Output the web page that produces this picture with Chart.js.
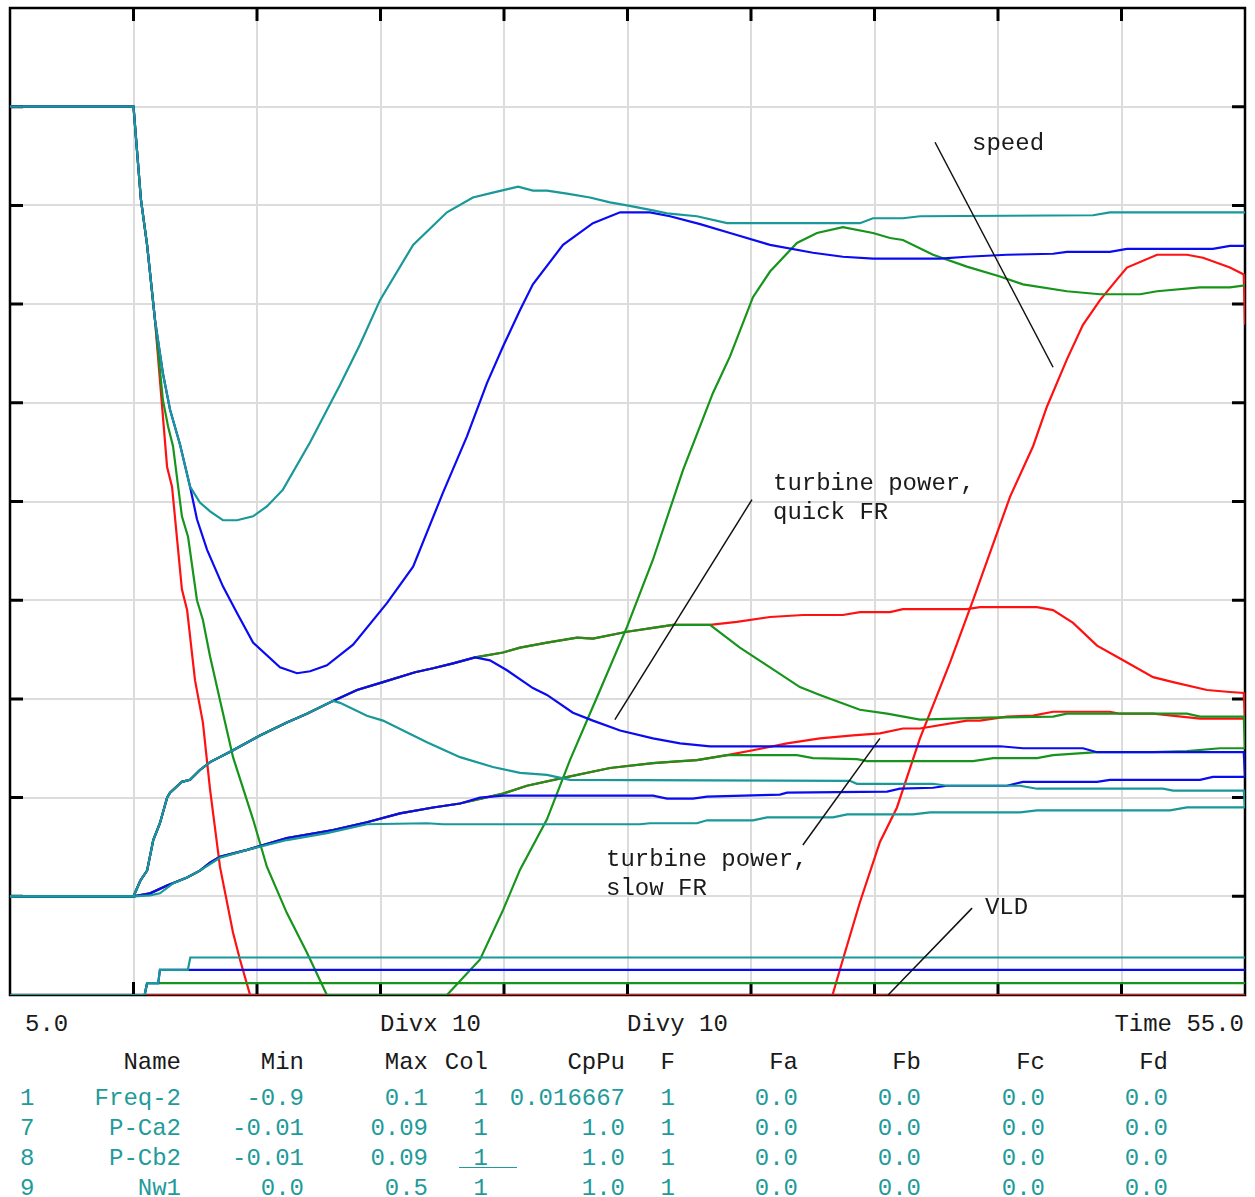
<!DOCTYPE html>
<html>
<head>
<meta charset="utf-8">
<title>Frequency response</title>
<script src="https://cdn.jsdelivr.net/npm/chart.js@4.4.0/dist/chart.umd.min.js"></script>
<style>
  body { margin: 0; background: #fff; width: 1255px; height: 1197px; position: relative; overflow: hidden; font-family: "Liberation Mono", "DejaVu Sans Mono", monospace; }
  #wrap { position: absolute; left: 0; top: 0; }
  .t { position: absolute; font-size: 24px; line-height: 30px; white-space: pre; }
  .k { color: #1a1a1a; }
  .c { color: #1f9b9b; }
  #uline { position: absolute; left: 459px; top: 1167px; width: 58px; border-top: 1px solid #1f9b9b; }
</style>
</head>
<body>
<div id="wrap"><canvas id="plot" width="1255" height="1003"></canvas></div>
<div id="table"></div>
<div id="uline"></div>
<script>
// time axis (s)
const timeMin = 5;
const timeMax = 55;

// table below the plot, one entry per plotted channel
const rowIds = ['1', '7', '8', '9'];
const rowNames = ['Freq-2', 'P-Ca2', 'P-Cb2', 'Nw1'];
const rowMin = [-0.9, -0.01, -0.01, 0.0];
const rowMax = [0.1, 0.09, 0.09, 0.5];
const rowCol = ['1', '1', '1', '1'];
const rowCpPu = ['0.016667', '1.0', '1.0', '1.0'];
const rowF = ['1', '1', '1', '1'];
const rowFa = ['0.0', '0.0', '0.0', '0.0'];
const rowFb = ['0.0', '0.0', '0.0', '0.0'];
const rowFc = ['0.0', '0.0', '0.0', '0.0'];
const rowFd = ['0.0', '0.0', '0.0', '0.0'];

// speed deviation (Freq-2), [time, value]
const speedTeal = [[5,0],[10,0],[10.3,-0.094],[10.55,-0.14],[10.87,-0.216],[11.19,-0.27],[11.48,-0.307],[11.88,-0.342],[12.29,-0.385],[12.69,-0.401],[13.1,-0.41],[13.62,-0.419],[14.19,-0.419],[14.84,-0.415],[15.4,-0.405],[16.05,-0.388],[17.15,-0.34],[18.36,-0.282],[19.17,-0.241],[19.98,-0.196],[21.32,-0.14],[22.69,-0.107],[23.74,-0.092],[24.55,-0.087],[25.57,-0.081],[26.17,-0.085],[26.74,-0.085],[27.55,-0.088],[28.48,-0.092],[29.29,-0.097],[29.98,-0.1],[31.03,-0.105],[31.6,-0.108],[32.81,-0.111],[34.03,-0.118],[39.41,-0.118],[39.94,-0.113],[41.15,-0.113],[41.84,-0.111],[48.85,-0.11],[49.53,-0.107],[55,-0.107]];
const speedBlue = [[5,0],[10,0],[10.3,-0.094],[10.55,-0.14],[10.87,-0.216],[11.19,-0.27],[11.48,-0.307],[11.88,-0.342],[12.29,-0.385],[12.57,-0.418],[12.98,-0.449],[13.62,-0.486],[14.19,-0.513],[14.84,-0.543],[15.93,-0.568],[16.62,-0.574],[17.15,-0.572],[17.83,-0.566],[18.89,-0.545],[20.26,-0.503],[21.32,-0.466],[22.53,-0.391],[23.5,-0.334],[24.31,-0.28],[24.96,-0.243],[25.65,-0.206],[26.17,-0.18],[27.39,-0.14],[28.6,-0.118],[29.7,-0.107],[30.91,-0.107],[31.72,-0.111],[32.94,-0.119],[34.15,-0.128],[35.77,-0.14],[37.51,-0.148],[38.72,-0.152],[39.94,-0.154],[42.65,-0.154],[43.74,-0.152],[45.36,-0.15],[47.23,-0.149],[47.79,-0.147],[49.53,-0.147],[50.22,-0.144],[53.7,-0.144],[54.39,-0.141],[55,-0.141]];
const speedGreen = [[5,0],[10,0],[10.3,-0.094],[10.55,-0.14],[10.87,-0.216],[11.19,-0.297],[11.4,-0.324],[11.6,-0.344],[11.96,-0.415],[12.21,-0.436],[12.57,-0.5],[12.81,-0.52],[13.1,-0.557],[13.5,-0.601],[14.03,-0.659],[14.84,-0.722],[15.4,-0.77],[16.21,-0.817],[17.02,-0.857],[17.83,-0.9],[22.69,-0.9],[24.03,-0.864],[24.96,-0.814],[25.65,-0.773],[26.74,-0.722],[27.67,-0.662],[28.89,-0.591],[29.98,-0.527],[31.03,-0.459],[32.25,-0.368],[33.46,-0.29],[34.15,-0.253],[35.08,-0.193],[35.77,-0.167],[36.86,-0.138],[37.67,-0.128],[38.72,-0.122],[39.94,-0.128],[40.63,-0.133],[41.15,-0.135],[42.37,-0.15],[43.74,-0.162],[45.08,-0.172],[46.01,-0.18],[47.79,-0.187],[49.13,-0.19],[50.75,-0.19],[51.44,-0.187],[53.18,-0.183],[54.39,-0.183],[55,-0.181]];
const speedRed = [[5,0],[10,0],[10.3,-0.094],[10.55,-0.14],[10.87,-0.216],[11.07,-0.277],[11.36,-0.365],[11.56,-0.385],[11.96,-0.489],[12.17,-0.51],[12.49,-0.581],[12.81,-0.624],[13.1,-0.692],[13.5,-0.77],[14.03,-0.837],[14.31,-0.864],[14.72,-0.9],[38.3,-0.9],[38.72,-0.864],[39.41,-0.806],[40.22,-0.745],[40.91,-0.71],[41.84,-0.64],[43.06,-0.563],[43.99,-0.5],[44.96,-0.432],[45.49,-0.395],[46.42,-0.344],[46.98,-0.304],[47.79,-0.256],[48.44,-0.221],[49.13,-0.196],[49.82,-0.175],[50.22,-0.163],[51.44,-0.15],[52.65,-0.15],[53.3,-0.153],[54.39,-0.163],[54.95,-0.17],[55,-0.221]];

// turbine power, quick FR (P-Ca2)
const quickRise = [[5,0],[10,0],[10.28,0.0016],[10.55,0.0026],[10.8,0.0057],[11.07,0.0074],[11.36,0.01],[11.48,0.0105],[11.96,0.0116],[12.29,0.0118],[12.69,0.0128],[13.1,0.0136],[14.03,0.0148],[15.12,0.0163],[16.21,0.0176],[17.02,0.0185],[18.08,0.0198]];
const quickTeal = quickRise.concat([[18.36,0.0196],[19.45,0.0183],[20.1,0.0178],[21.88,0.0156],[23.22,0.0141],[24.55,0.0131],[25.65,0.0125],[26.74,0.0123],[27.67,0.0118],[39,0.0117],[39.29,0.0114],[42.37,0.0114],[42.94,0.0112],[45.89,0.0112],[46.58,0.0109],[51.68,0.0109],[52.09,0.0107],[54.95,0.0107],[55,0.009]]);
const quickBlue = quickRise.concat([[19.05,0.0209],[20.1,0.0217],[21.4,0.0227],[22.13,0.0231],[22.94,0.0236],[23.83,0.0242],[24.43,0.0239],[25.12,0.0229],[26.17,0.0211],[26.74,0.0204],[27.79,0.0186],[28.6,0.0178],[29.7,0.0168],[31.03,0.016],[32.13,0.0155],[33.34,0.0152],[45.08,0.0152],[46.01,0.015],[48.44,0.015],[49.01,0.0146],[54.95,0.0146],[55,0.0121]]);
const quickGreen = quickRise.concat([[19.05,0.0209],[20.1,0.0217],[21.4,0.0227],[22.13,0.0231],[22.94,0.0236],[23.83,0.0242],[24.96,0.0247],[25.65,0.0252],[26.74,0.0257],[27.96,0.0262],[28.6,0.0261],[29.98,0.0268],[31.03,0.0272],[31.84,0.0275],[33.34,0.0275],[34.55,0.0252],[35.77,0.0232],[36.98,0.0212],[37.79,0.0204],[39.41,0.0189],[40.51,0.0185],[41.84,0.0179],[44.55,0.0181],[47.23,0.0182],[47.79,0.0185],[52.65,0.0185],[53.18,0.0182],[54.95,0.0182],[55,0.015]]);
const quickRed = quickRise.concat([[19.05,0.0209],[20.1,0.0217],[21.4,0.0227],[22.13,0.0231],[22.94,0.0236],[23.83,0.0242],[24.96,0.0247],[25.65,0.0252],[26.74,0.0257],[27.96,0.0262],[28.6,0.0261],[29.98,0.0268],[31.03,0.0272],[31.84,0.0275],[33.34,0.0275],[34.43,0.0278],[35.77,0.0283],[37.11,0.0285],[38.72,0.0285],[39.41,0.0288],[40.63,0.0288],[41.15,0.0291],[43.74,0.0291],[44.27,0.0293],[46.58,0.0293],[47.23,0.029],[48.04,0.0277],[49.01,0.0254],[49.94,0.0241],[51.28,0.0222],[52.09,0.0217],[53.46,0.0209],[54.39,0.0207],[54.95,0.0206],[55,0.018]]);

// turbine power, slow FR (P-Cb2)
const slowRise = [[5,0],[10,0],[10.67,0.0003],[11.36,0.0011],[12.17,0.0019],[12.69,0.0026],[13.1,0.0034],[13.5,0.004],[14.6,0.0047],[16.21,0.0059],[18.08,0.0067],[19.45,0.0075]];
const slowTeal = [[5,0],[10,0],[10.67,0.0001],[11.07,0.0003],[11.6,0.0013],[12.17,0.0019],[12.69,0.0026],[13.5,0.0039],[14.6,0.0047],[16.21,0.0057],[17.83,0.0064],[19.45,0.0073],[21.88,0.0074],[22.53,0.0073],[30.5,0.0073],[30.91,0.0074],[32.81,0.0074],[33.22,0.0077],[35.08,0.0077],[35.65,0.008],[38.32,0.008],[38.89,0.0083],[41.56,0.0083],[42.25,0.0085],[45.89,0.0085],[46.58,0.0087],[51.96,0.0087],[52.65,0.009],[55,0.009]];
const slowBlue = slowRise.concat([[20.79,0.0084],[22.13,0.009],[23.22,0.0094],[24.03,0.01],[24.96,0.0102],[31.03,0.0102],[31.6,0.0099],[32.65,0.0099],[33.22,0.0101],[36.17,0.0103],[36.46,0.0105],[40.51,0.0106],[41.03,0.0109],[42.37,0.011],[42.94,0.0112],[45.36,0.0112],[46.01,0.0116],[49.01,0.0116],[49.53,0.0118],[53.18,0.0118],[53.7,0.0121],[55,0.0121]]);
const slowGreen = slowRise.concat([[20.79,0.0084],[22.13,0.009],[23.22,0.0094],[24.96,0.0104],[25.93,0.0112],[27.39,0.012],[29.29,0.013],[31.03,0.0135],[32.13,0.0137],[32.81,0.0138],[34.03,0.0143],[36.86,0.0143],[37.51,0.014],[39.29,0.0139],[39.7,0.0137],[43.99,0.0137],[44.8,0.014],[46.58,0.014],[47.23,0.0143],[49.01,0.0146],[51.28,0.0146],[52.65,0.0147],[53.99,0.015],[55,0.015]]);
const slowRed = slowRise.concat([[20.79,0.0084],[22.13,0.009],[23.22,0.0094],[24.96,0.0104],[25.93,0.0112],[27.39,0.012],[29.29,0.013],[31.03,0.0135],[32.81,0.0138],[34.03,0.0143],[35.08,0.0148],[36.46,0.0155],[37.79,0.016],[39.13,0.0163],[40.22,0.0165],[41.15,0.017],[41.84,0.017],[43.74,0.0178],[44.27,0.0178],[45.36,0.0182],[46.42,0.0183],[47.23,0.0187],[49.53,0.0187],[49.94,0.0185],[51.28,0.0185],[53.18,0.018],[55,0.018]]);

// VLD (Nw1)
const vldTeal = [[5,0],[10.45,0],[10.55,0.006],[11.0,0.006],[11.07,0.0127],[12.2,0.0127],[12.3,0.019],[55,0.019]];
const vldBlue = [[5,0],[10.45,0],[10.55,0.006],[11.0,0.006],[11.07,0.0127],[55,0.0127]];
const vldGreen = [[5,0],[10.45,0],[10.55,0.006],[55,0.006]];
const vldRed = [[5,0],[55,0]];

// labels drawn on the plot: text lines, position in (time, division)
const noteTexts = [['speed'], ['turbine power,', 'quick FR'], ['turbine power,', 'slow FR'], ['VLD']];
const notePos = [[43.95, 8.63], [35.89, 5.18], [29.13, 1.37], [44.47, 0.89]];
const pointerLines = [[42.45, 8.64, 47.23, 6.36], [35.04, 5.02, 29.49, 2.79], [40.22, 2.60, 37.1, 1.52], [43.95, 0.88, 40.55, 0.0]];

const colors = { teal: '#189898', blue: '#0b0bf2', green: '#17941b', red: '#ff1111' };

function pts(arr) {
    return arr.map(p => ({ x: p[0], y: p[1] }));
}

function series(label, arr, axis, color, order) {
    return {
        label: label,
        data: pts(arr),
        yAxisID: axis,
        borderColor: color,
        backgroundColor: color,
        borderWidth: 2.2,
        pointRadius: 0,
        tension: 0,
        fill: false,
        order: order
    };
}

const cases = [
    { color: colors.teal, speed: speedTeal, quick: quickTeal, slow: slowTeal, vld: vldTeal },
    { color: colors.blue, speed: speedBlue, quick: quickBlue, slow: slowBlue, vld: vldBlue },
    { color: colors.green, speed: speedGreen, quick: quickGreen, slow: slowGreen, vld: vldGreen },
    { color: colors.red, speed: speedRed, quick: quickRed, slow: slowRed, vld: vldRed }
];

const datasets = [];
cases.forEach((c, i) => {
    datasets.push(series(rowNames[0], c.speed, 'yFreq', c.color, i));
    datasets.push(series(rowNames[1], c.quick, 'yPca', c.color, i));
    datasets.push(series(rowNames[2], c.slow, 'yPcb', c.color, i));
    datasets.push(series(rowNames[3], c.vld, 'yNw', c.color, i));
});

// black frame with inward ticks
const framePlugin = {
    id: 'frame',
    beforeDatasetsDraw(chart) {
        const { ctx, chartArea: a, scales } = chart;
        ctx.save();
        ctx.strokeStyle = '#000';
        ctx.lineWidth = 2.5;
        ctx.strokeRect(a.left, a.top, a.right - a.left, a.bottom - a.top);
        ctx.lineWidth = 3;
        const len = 13;
        scales.x.ticks.forEach(tk => {
            if (tk.value <= timeMin || tk.value >= timeMax) return;
            const px = scales.x.getPixelForValue(tk.value);
            ctx.beginPath();
            ctx.moveTo(px, a.top); ctx.lineTo(px, a.top + len);
            ctx.moveTo(px, a.bottom); ctx.lineTo(px, a.bottom - len);
            ctx.stroke();
        });
        scales.y.ticks.forEach(tk => {
            if (tk.value <= 0 || tk.value >= 10) return;
            const py = scales.y.getPixelForValue(tk.value);
            ctx.beginPath();
            ctx.moveTo(a.left, py); ctx.lineTo(a.left + len, py);
            ctx.moveTo(a.right, py); ctx.lineTo(a.right - len, py);
            ctx.stroke();
        });
        ctx.restore();
    }
};

// annotation text and pointer lines
const notesPlugin = {
    id: 'notes',
    afterDatasetsDraw(chart) {
        const { ctx, scales } = chart;
        const sx = v => scales.x.getPixelForValue(v);
        const sy = v => scales.y.getPixelForValue(v);
        ctx.save();
        ctx.strokeStyle = '#111';
        ctx.lineWidth = 1.5;
        pointerLines.forEach(l => {
            ctx.beginPath();
            ctx.moveTo(sx(l[0]), sy(l[1]));
            ctx.lineTo(sx(l[2]), sy(l[3]));
            ctx.stroke();
        });
        ctx.fillStyle = '#1a1a1a';
        ctx.font = '24px "Liberation Mono", monospace';
        ctx.textBaseline = 'middle';
        noteTexts.forEach((lines, i) => {
            const x = sx(notePos[i][0]);
            const y = sy(notePos[i][1]);
            lines.forEach((txt, j) => ctx.fillText(txt, x, y + j * 29));
        });
        ctx.restore();
    }
};

const gridStyle = { color: '#dcdcdc', lineWidth: 2, drawTicks: false };

new Chart(document.getElementById('plot'), {
    type: 'line',
    data: { datasets: datasets },
    options: {
        responsive: false,
        animation: false,
        layout: { padding: { left: 10, right: 10, top: 8, bottom: 8 } },
        plugins: { legend: { display: false }, tooltip: { enabled: false } },
        scales: {
            x: { type: 'linear', min: timeMin, max: timeMax, ticks: { display: false, stepSize: 5 }, grid: gridStyle, border: { display: false } },
            y: { min: 0, max: 10, ticks: { display: false, stepSize: 1 }, grid: gridStyle, border: { display: false } },
            yFreq: { display: false, min: rowMin[0], max: rowMax[0] },
            yPca: { display: false, min: rowMin[1], max: rowMax[1] },
            yPcb: { display: false, min: rowMin[2], max: rowMax[2] },
            yNw: { display: false, min: rowMin[3], max: rowMax[3] }
        }
    },
    plugins: [framePlugin, notesPlugin]
});

// text block under the plot
const table = document.getElementById('table');
function put(text, right, top, cls, left) {
    const d = document.createElement('div');
    d.className = 't ' + cls;
    d.textContent = text;
    d.style.top = top + 'px';
    if (left) d.style.left = right + 'px';
    else d.style.right = (1255 - right) + 'px';
    table.appendChild(d);
}
function fmt(v) {
    return Number.isInteger(v) ? v.toFixed(1) : String(v);
}

put(timeMin.toFixed(1), 25, 1010, 'k', true);
put('Divx 10', 380, 1010, 'k', true);
put('Divy 10', 627, 1010, 'k', true);
put('Time ' + timeMax.toFixed(1), 1244, 1010, 'k');

const colRight = [181, 304, 428, 488, 625, 675, 798, 921, 1045, 1168];
const headers = ['Name', 'Min', 'Max', 'Col', 'CpPu', 'F', 'Fa', 'Fb', 'Fc', 'Fd'];
headers.forEach((h, i) => put(h, colRight[i], 1048, 'k'));

rowIds.forEach((id, r) => {
    const top = 1084 + r * 30;
    put(id, 20, top, 'c', true);
    const cells = [rowNames[r], fmt(rowMin[r]), fmt(rowMax[r]), rowCol[r], rowCpPu[r], rowF[r], rowFa[r], rowFb[r], rowFc[r], rowFd[r]];
    cells.forEach((txt, i) => put(txt, colRight[i], top, 'c'));
});
</script>
</body>
</html>
